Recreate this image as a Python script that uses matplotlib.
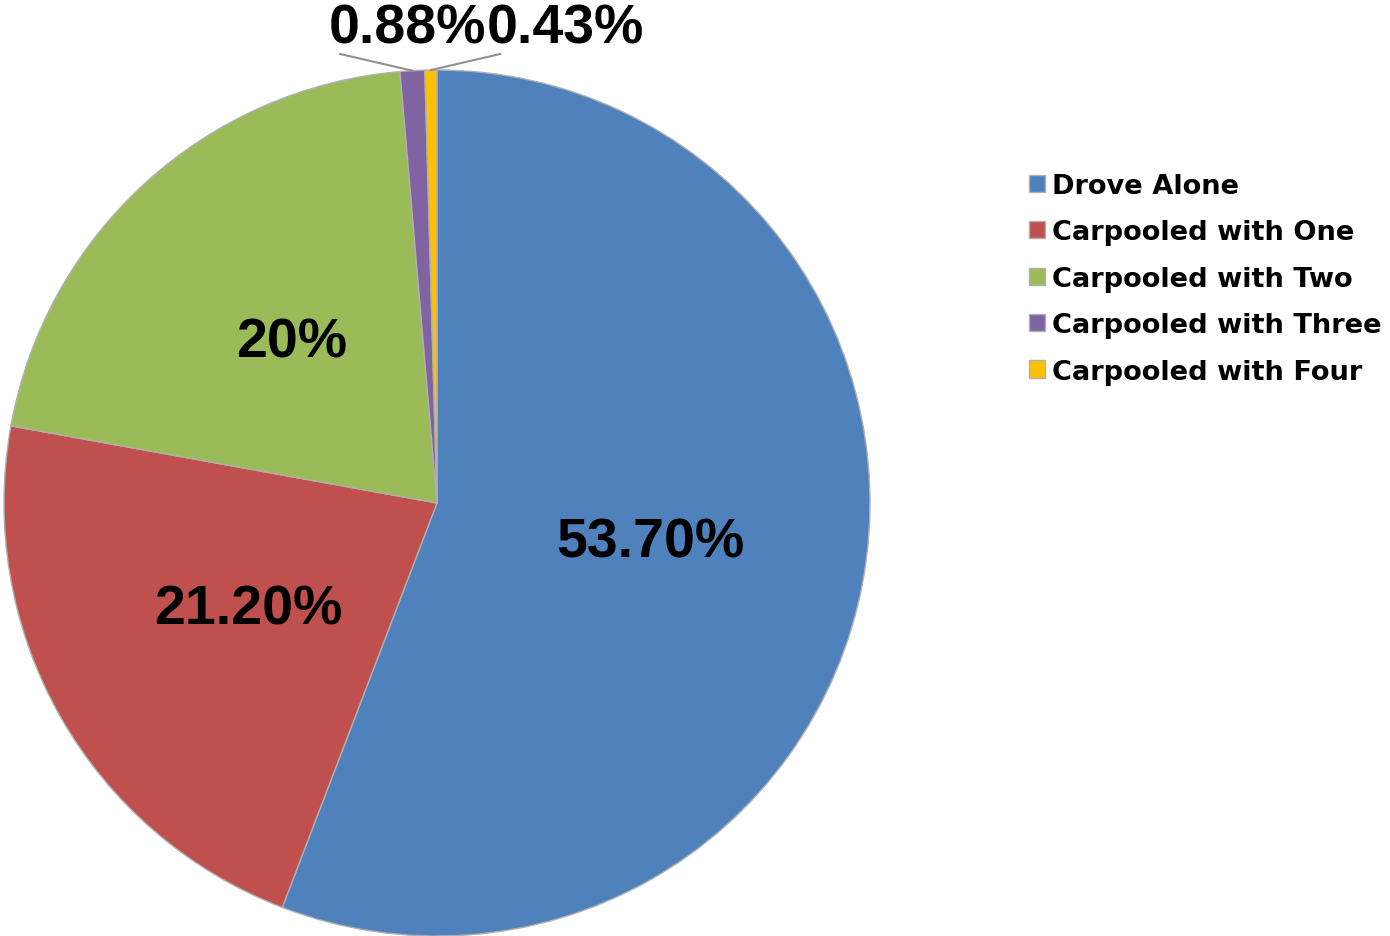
import numpy as np
import matplotlib.pyplot as plt

# commute mode shares (percent, as printed on the chart)
modes = ['Drove Alone', 'Carpooled with One', 'Carpooled with Two',
         'Carpooled with Three', 'Carpooled with Four']
shares = [53.70, 21.20, 20, 0.88, 0.43]
share_labels = ['53.70%', '21.20%', '20%', '0.88%', '0.43%']
colors = ['#4F81BD', '#C0504D', '#9BBB59', '#8064A2', '#FFC000']

fig = plt.figure(figsize=(13.9, 9.37), dpi=100)
W, H = 1390, 937
# axes box exactly around the circle (pixel coords from the reference)
ax = fig.add_axes([4 / W, 0 / H, 866 / W, 866 / H])

wedges, _ = ax.pie(shares, colors=colors, startangle=90, counterclock=False,
                   radius=1, wedgeprops=dict(edgecolor='#b0b0b0', linewidth=1))
ax.set_xlim(-1, 1)
ax.set_ylim(-1, 1)
ax.set_aspect('auto')
ax.axis('off')

lab_font = dict(family='Liberation Sans', fontsize=40, fontweight='bold', color='black')

# big slices: label inside at half radius
for w, lab in zip(wedges[:3], share_labels[:3]):
    mid = np.deg2rad((w.theta1 + w.theta2) / 2)
    ax.text(0.5 * np.cos(mid), 0.5 * np.sin(mid), lab, ha='center', va='center', **lab_font)

# small slices: labels above with leader lines
text_pos = [(-0.069, 1.095), (0.296, 1.095)]
line_start = [(-0.224, 1.037), (0.146, 1.037)]
for w, lab, tp, ls in zip(wedges[3:], share_labels[3:], text_pos, line_start):
    mid = np.deg2rad((w.theta1 + w.theta2) / 2)
    ex, ey = np.cos(mid), np.sin(mid)
    ax.plot([ls[0], ex], [ls[1], ey], color='#909090', lw=1.5, clip_on=False)
    ax.text(tp[0], tp[1], lab, ha='center', va='center', clip_on=False, **lab_font)

fig.legend(wedges, modes, loc='upper left', bbox_to_anchor=(1029 / W, 1 - 174 / H),
           frameon=False, prop=dict(family='DejaVu Sans', size=19.6, weight='bold'),
           handlelength=0.6, handleheight=0.6, handletextpad=0.25,
           labelspacing=0.75, borderpad=0, borderaxespad=0)

fig.savefig('out.png', dpi=100)
